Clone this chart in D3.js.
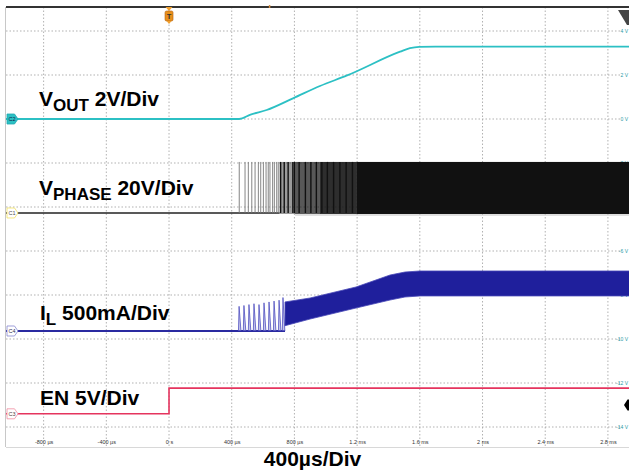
<!DOCTYPE html>
<html><head><meta charset="utf-8">
<script src="https://cdn.jsdelivr.net/npm/d3@7"></script>
<style>body{margin:0;background:#fff}svg{display:block}</style>
</head><body><svg id="c" width="629" height="473"></svg>
<script>
// ---- data (time in µs) ----
const timeTicks = [-800,-400,0,400,800,1200,1600,2000,2400,2800];
const timeTickLabels = ["-800 µs","-400 µs","0 s","400 µs","800 µs","1.2 ms","1.6 ms","2 ms","2.4 ms","2.8 ms"];
const gridDivs = [4.5,3.5,2.5,1.5,0.5,-0.5,-1.5,-2.5,-3.5,-4.5];
const rightLabels = ["4 V","2 V","0 V","-2 V","-4 V","-6 V","-8 V","-10 V","-12 V","-14 V"];

// VOUT (V), 2V/div
const voutT = [-1040, 447, 520, 623, 791, 963, 1136, 1474, 1537, 1595, 1700, 2960];
const voutV = [0, 0, 0.2, 0.41, 0.94, 1.5, 1.98, 3.06, 3.22, 3.28, 3.29, 3.29];
// EN (V), 5V/div
const enT = [-1040, 0, 0, 2960];
const enV = [0, 0, 2.92, 2.92];
// VPHASE (V), 20V/div
const phaseHigh = 23.2;
const phaseSparseT = [448,485,506,528,549,570,585,602,619,633,644,661,672,687,697];
const phaseBandStart = [705, 804, 963, 1199];
const phaseBandEnd   = [804, 963, 1199, 2960];
const phaseBandDensity = [0.42, 0.7, 0.88, 1];
// dark stripes seen inside the transition region
const phaseStripeT = [712, 735, 760, 790, 800, 830, 870, 905, 940, 975, 1010, 1050, 1090, 1130, 1170];
// IL (mA), 500mA/div
const ilSpikeT    = [447,478,510,542,574,606,638,670,702,727];
const ilSpikePeak = [280,290,300,310,300,320,330,340,350,380];
const ilBandT  = [740, 900, 1193, 1410, 1505, 1601, 2960];
const ilBandHi = [330, 375, 500, 636, 670, 682, 682];
const ilBandLo = [60, 136, 261, 352, 386, 398, 398];

// ---- scales ----
const svg = d3.select("#c");
const x = d3.scaleLinear().domain([-1040, 2960]).range([6, 633]);
const y = d3.scaleLinear().domain([5, -5]).range([9, 449]); // divisions
const ch = {
  vout:{off:2.5, scale:2},
  phase:{off:0.364, scale:20},
  il:{off:-2.318, scale:500},
  en:{off:-4.2, scale:5}
};
const yv = (c, v) => y(ch[c].off + v / ch[c].scale);

const plotTop = 7, plotBottom = 447;
// frame
svg.append("line").attr("x1",5.5).attr("x2",5.5).attr("y1",plotTop).attr("y2",plotBottom).attr("stroke","#c8c8c8");
svg.append("line").attr("x1",6).attr("x2",629).attr("y1",plotBottom+0.5).attr("y2",plotBottom+0.5).attr("stroke","#d8d8d8");

// grid
const grid = svg.append("g").attr("stroke","#a8a8a8").attr("stroke-dasharray","1.5,2").attr("stroke-width",0.9);
grid.selectAll("line.v").data(timeTicks).join("line").attr("class","v")
  .attr("x1",d=>x(d)).attr("x2",d=>x(d)).attr("y1",plotTop).attr("y2",plotBottom);
grid.selectAll("line.h").data(gridDivs).join("line").attr("class","h")
  .attr("x1",6).attr("x2",622).attr("y1",d=>y(d)).attr("y2",d=>y(d));

// bottom tick labels
const ax = svg.append("g").attr("transform",`translate(0,${plotBottom-1})`)
  .call(d3.axisTop(x).tickValues(timeTicks).tickSize(0).tickPadding(2)
    .tickFormat((d,i)=>timeTickLabels[i]));
ax.select(".domain").remove();
ax.selectAll("text").attr("font-size",5.5).attr("font-family","Liberation Sans, Arial").attr("fill","#333");

// right labels
const ay = svg.append("g").attr("transform","translate(628,0)")
  .call(d3.axisLeft(y).tickValues(gridDivs).tickSize(0).tickPadding(0)
    .tickFormat((d,i)=>rightLabels[i]));
ay.select(".domain").remove();
ay.selectAll("text").attr("font-size",5).attr("font-family","Liberation Sans, Arial").attr("fill","#2a9aa5");

// ---- VPHASE ----
const phTop = yv("phase", phaseHigh), phBase = yv("phase", 0);
svg.append("line").attr("x1",x(-1040)).attr("x2",x(phaseBandStart[0])).attr("y1",phBase).attr("y2",phBase)
  .attr("stroke","#222").attr("stroke-width",1.6);
svg.append("g").selectAll("line").data(phaseSparseT).join("line")
  .attr("x1",d=>x(d)).attr("x2",d=>x(d)).attr("y1",phTop).attr("y2",phBase)
  .attr("stroke","#777").attr("stroke-width",0.9);
svg.append("g").selectAll("rect").data(phaseBandStart).join("rect")
  .attr("x",(d)=>x(d)).attr("width",(d,i)=>x(phaseBandEnd[i])-x(d))
  .attr("y",phTop).attr("height",phBase-phTop+1)
  .attr("fill","#111").attr("fill-opacity",(d,i)=>phaseBandDensity[i]);
svg.append("g").selectAll("line").data(phaseStripeT).join("line")
  .attr("x1",d=>x(d)).attr("x2",d=>x(d)).attr("y1",phTop).attr("y2",phBase)
  .attr("stroke","#111").attr("stroke-width",1.4);
svg.append("line").attr("x1",x(phaseBandStart[1])).attr("x2",629).attr("y1",phBase+2).attr("y2",phBase+2)
  .attr("stroke","#c0c0c0").attr("stroke-width",1);

// ---- IL ----
const ilBase = yv("il",0);
svg.append("line").attr("x1",x(-1040)).attr("x2",x(ilBandT[0])).attr("y1",ilBase).attr("y2",ilBase)
  .attr("stroke","#2a2aa0").attr("stroke-width",2);
svg.append("g").selectAll("path").data(ilSpikeT).join("path")
  .attr("d",(d,i)=>`M${x(d-4)},${ilBase}L${x(d)},${yv("il",ilSpikePeak[i])}L${x(d+12)},${ilBase}`)
  .attr("fill","#8c8cd8").attr("fill-opacity",0.5).attr("stroke","#5050c0").attr("stroke-width",0.8);
const ilArea = d3.area().x((d,i)=>x(ilBandT[i])).y0((d,i)=>yv("il",ilBandLo[i])).y1((d,i)=>yv("il",ilBandHi[i]));
svg.append("path").attr("d",ilArea(ilBandT)).attr("fill","#1f1f9c").attr("stroke","#4848b8").attr("stroke-width",0.8);

// ---- VOUT ----
const voutLine = d3.line().x((d,i)=>x(voutT[i])).y((d,i)=>yv("vout",voutV[i])).curve(d3.curveMonotoneX);
svg.append("path").attr("d",voutLine(voutT)).attr("fill","none").attr("stroke","#2cc0c4").attr("stroke-width",1.8);

// ---- EN ----
const enLine = d3.line().x((d,i)=>x(enT[i])).y((d,i)=>yv("en",enV[i]));
svg.append("path").attr("d",enLine(enT)).attr("fill","none").attr("stroke","#e5345e").attr("stroke-width",1.6);

// top bar
svg.append("line").attr("x1",6).attr("x2",629).attr("y1",plotTop).attr("y2",plotTop).attr("stroke","#333").attr("stroke-width",2);
svg.append("rect").attr("x",x(640)-0.5).attr("y",5).attr("width",1.5).attr("height",3).attr("fill","#d08a40");

// trigger marker
const tx = x(0);
svg.append("path").attr("d",`M${tx-3.5},7 L${tx+3.5},7 L${tx},11 Z`).attr("fill","#f0a030");
svg.append("rect").attr("x",tx-4).attr("y",11).attr("width",8).attr("height",10).attr("rx",1.5)
  .attr("fill","#e8901c").attr("stroke","#b06010").attr("stroke-width",0.6);
svg.append("path").attr("d",`M${tx-2.5},21 L${tx+2.5},21 L${tx},24 Z`).attr("fill","#f0a030");
svg.append("text").attr("x",tx).attr("y",19.3).attr("text-anchor","middle").attr("font-size",7.5)
  .attr("font-weight","bold").attr("font-family","Liberation Sans, Arial").attr("fill","#333").text("T");

// top-right marker
svg.append("path").attr("d","M618,10 L629,10 L629,25 L627,25 Z").attr("fill","#444");
// right marker (EN)
svg.append("path").attr("d","M624,405 L627.5,399.5 L629,399.5 L629,410.5 L627.5,410.5 Z").attr("fill","#000");

// channel markers
function marker(cy, label, stroke, fill, tcol){
  const g = svg.append("g");
  g.append("path").attr("d",`M7,${cy-5} H14.5 L18,${cy} L14.5,${cy+5} H7 Z`)
    .attr("fill",fill).attr("stroke",stroke).attr("stroke-width",0.8);
  g.append("text").attr("x",12).attr("y",cy+2).attr("text-anchor","middle").attr("font-size",5.5)
    .attr("font-family","Liberation Sans, Arial").attr("fill",tcol).text(label);
}
marker(yv("vout",0),"C2","#20a8b0","#2cc0c4","#124");
marker(phBase,"C1","#f0e060","#fff","#555");
marker(ilBase,"C4","#8888d0","#fff","#335");
marker(yv("en",0),"C3","#f08ca0","#fff","#544");

// labels
function label(xp, yp, main, sub, rest){
  const t = svg.append("text").attr("x",xp).attr("y",yp).attr("font-family","Liberation Sans, Arial")
    .attr("font-weight","bold").attr("font-size",21).attr("fill","#000");
  t.append("tspan").text(main);
  if (sub) {
    t.append("tspan").attr("font-size",17).attr("dy",5).text(sub);
    t.append("tspan").attr("dy",-5).text(rest);
  } else {
    t.append("tspan").text(rest);
  }
}
label(39, 106, "V", "OUT", " 2V/Div");
label(39, 194.5, "V", "PHASE", " 20V/Div");
label(40, 320, "I", "L", " 500mA/Div");
label(40, 405, "EN", null, " 5V/Div");
svg.append("text").attr("x",312.5).attr("y",466).attr("text-anchor","middle").attr("font-family","Liberation Sans, Arial")
  .attr("font-weight","bold").attr("font-size",21).attr("fill","#000").text("400µs/Div");
</script></body></html>
